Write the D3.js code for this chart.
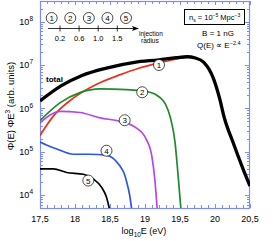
<!DOCTYPE html>
<html><head><meta charset="utf-8">
<script src="https://cdn.jsdelivr.net/npm/d3@7"></script>
<style>body{margin:0;background:#fff}svg{display:block;font-family:"Liberation Sans",Arial,sans-serif}</style>
</head><body><svg id="c" width="274" height="241"></svg>
<script>
// ---- data (log10 E [eV], flux * E^3 arb. units) ----
const totalE = [17.5, 17.8, 18.1, 18.45, 18.85, 19.2, 19.45, 19.6, 19.72, 19.84, 19.98, 20.07, 20.13, 20.26, 20.4, 20.5];
const totalV = [1.48e6, 3.3e6, 5.75e6, 8.5e6, 1.15e7, 1.32e7, 1.48e7, 1.55e7, 1.45e7, 1.15e7, 4.8e6, 1.6e6, 6.3e5, 1.6e5, 4.0e4, 1.6e4];
const r1E = [17.5, 17.69, 17.98, 18.31, 18.65, 18.9, 19.2, 19.4, 19.57];
const r1V = [2.35e5, 6.6e5, 1.74e6, 3.6e6, 6.0e6, 8.3e6, 1.12e7, 1.32e7, 1.51e7];
const r2E = [17.5, 17.79, 18.07, 18.36, 18.74, 19.07, 19.2, 19.29, 19.36, 19.43, 19.47, 19.52];
const r2V = [5.2e5, 1.35e6, 2.3e6, 2.8e6, 2.7e6, 2.35e6, 1.85e6, 1.26e6, 6.3e5, 1.6e5, 3.2e4, 3.5e3];
const r3E = [17.5, 17.65, 17.79, 18.07, 18.36, 18.64, 18.88, 19.02, 19.1, 19.14, 19.18];
const r3V = [4.6e5, 7.1e5, 8.5e5, 8.0e5, 6.0e5, 5.0e5, 3.5e5, 1.9e5, 7.5e4, 2.3e4, 3.5e3];
const r4E = [17.5, 17.6, 17.74, 17.98, 18.21, 18.45, 18.55, 18.64, 18.7, 18.74, 18.78, 18.82];
const r4V = [1.66e5, 1.41e5, 1.15e5, 8.7e4, 8.7e4, 8.3e4, 6.9e4, 4.7e4, 3.2e4, 1.95e4, 1.0e4, 3.5e3];
const r5E = [17.5, 17.69, 17.88, 18.12, 18.26, 18.38, 18.45, 18.51];
const r5V = [4.0e4, 4.0e4, 3.3e4, 3.0e4, 2.35e4, 1.5e4, 8.9e3, 3.5e3];
const seriesNames = ["total", "1", "2", "3", "4", "5"];
const seriesColors = ["#000000", "#e8321e", "#1f8a2e", "#b447e6", "#2a55e6", "#000000"];
const xTicks = [17.5, 18, 18.5, 19, 19.5, 20, 20.5];
const xTickLabels = ["17,5", "18", "18,5", "19", "19,5", "20", "20,5"];
const yTicks = [1e4, 1e5, 1e6, 1e7, 1e8];
const yTickExps = ["4", "5", "6", "7", "8"];
const insetLabels = ["1", "2", "3", "4", "5"];
const insetTicks = ["0.2", "0.6", "1.0", "1.5"];
// label positions (E, value) for the circled numbers
const markE = [19.2, 18.96, 18.71, 18.45, 18.19];
const markV = [1.0e7, 2.35e6, 5.3e5, 1.05e5, 2.15e4];

const svg = d3.select("#c");
const L = 40, R = 250, T = 1, B = 208;
const frame = "#7d8cf0";
const x = d3.scaleLinear().domain([17.5, 20.5]).range([L, R]);
const y = d3.scaleLog().domain([5e3, 3e8]).range([B, T]);

svg.append("defs").append("clipPath").attr("id", "clip")
  .append("rect").attr("x", L).attr("y", T).attr("width", R - L).attr("height", B - T);

// ticks
const g = svg.append("g").attr("stroke", frame).attr("stroke-width", 1);
const xMinor = d3.range(175, 206).map(d => d / 10);
xMinor.forEach(v => {
  const major = xTicks.some(t => Math.abs(t - v) < 1e-6);
  const len = major ? 4 : 3;
  const px = Math.round(x(v)) + 0.5;
  g.append("line").attr("x1", px).attr("x2", px).attr("y1", B).attr("y2", B - len);
  g.append("line").attr("x1", px).attr("x2", px).attr("y1", T).attr("y2", T + len);
});
for (let e = 3; e <= 8; e++) {
  for (let m = 1; m <= 9; m++) {
    const v = m * Math.pow(10, e);
    if (v < 5e3 || v > 3e8) continue;
    const len = m === 1 ? 5 : 3;
    const py = Math.round(y(v)) + 0.5;
    g.append("line").attr("x1", L).attr("x2", L + len).attr("y1", py).attr("y2", py);
    g.append("line").attr("x1", R).attr("x2", R - len).attr("y1", py).attr("y2", py);
  }
}
svg.append("rect").attr("x", L + 0.5).attr("y", T + 0.5).attr("width", R - L - 1).attr("height", B - T)
  .attr("fill", "none").attr("stroke", frame).attr("stroke-width", 1.2);

// tick labels
xTicks.forEach((t, i) => {
  svg.append("text").attr("x", x(t)).attr("y", B + 14).attr("text-anchor", "middle")
    .attr("font-size", 9).text(xTickLabels[i]);
});
yTicks.forEach((t, i) => {
  const tx = svg.append("text").attr("x", 33).attr("y", y(t) + 3.5).attr("text-anchor", "end").attr("font-size", 9);
  tx.append("tspan").text("10");
  tx.append("tspan").attr("dy", -4).attr("font-size", 6.5).text(yTickExps[i]);
});

// axis titles
const xl = svg.append("text").attr("x", 144).attr("y", 234).attr("text-anchor", "middle").attr("font-size", 9);
xl.append("tspan").text("log");
xl.append("tspan").attr("dy", 2.5).attr("font-size", 6.5).text("10");
xl.append("tspan").attr("dy", -2.5).text("E (eV)");
const yl = svg.append("text").attr("transform", "translate(14,106) rotate(-90)").attr("text-anchor", "middle").attr("font-size", 9.5);
yl.append("tspan").text("Φ(E) ΦE");
yl.append("tspan").attr("dy", -4).attr("font-size", 6.5).text("3");
yl.append("tspan").attr("dy", 4).text(" (arb. units)");

// curves
const line = d3.line().x(d => x(d[0])).y(d => y(d[1])).curve(d3.curveMonotoneX);
const allE = [totalE, r1E, r2E, r3E, r4E, r5E];
const allV = [totalV, r1V, r2V, r3V, r4V, r5V];
const cg = svg.append("g").attr("clip-path", "url(#clip)");
// draw order: series then total on top
[1, 2, 3, 4, 5, 0].forEach(i => {
  const pts = allE[i].map((e, j) => [e, allV[i][j]]);
  cg.append("path").attr("d", line(pts)).attr("fill", "none")
    .attr("stroke", seriesColors[i]).attr("stroke-width", i === 0 ? 3.3 : 1.7)
    .attr("stroke-linejoin", "round");
});

// circled markers
markE.forEach((e, i) => {
  const gg = svg.append("g").attr("transform", `translate(${x(e)},${y(markV[i])})`);
  gg.append("circle").attr("r", 5.5).attr("fill", "#fff").attr("stroke", "#000").attr("stroke-width", 0.7);
  gg.append("text").attr("y", 3).attr("text-anchor", "middle").attr("font-size", 8).text(insetLabels[i]);
});
svg.append("text").attr("x", 46).attr("y", 82).attr("font-size", 8).attr("font-weight", "bold").text("total");

// inset
const ix = d3.scalePoint().domain(insetLabels).range([51.7, 126]);
const it = d3.scalePoint().domain(insetTicks).range([60, 117.3]);
insetLabels.forEach(l => {
  const gg = svg.append("g").attr("transform", `translate(${ix(l)},18)`);
  gg.append("circle").attr("r", 5.5).attr("fill", "#fff").attr("stroke", "#000").attr("stroke-width", 0.7);
  gg.append("text").attr("y", 3).attr("text-anchor", "middle").attr("font-size", 8).text(l);
});
svg.append("line").attr("x1", 48).attr("x2", 135).attr("y1", 28.5).attr("y2", 28.5).attr("stroke", "#000").attr("stroke-width", 0.8);
svg.append("path").attr("d", "M139,28.5 L132,26 L133.5,28.5 L132,31 Z").attr("fill", "#000");
insetTicks.forEach(t => {
  svg.append("line").attr("x1", it(t)).attr("x2", it(t)).attr("y1", 25.5).attr("y2", 31.5).attr("stroke", "#000").attr("stroke-width", 0.8);
  svg.append("text").attr("x", it(t)).attr("y", 41).attr("text-anchor", "middle").attr("font-size", 7.5).text(t);
});
svg.append("text").attr("x", 139).attr("y", 36).attr("font-size", 6.5).text("injection");
svg.append("text").attr("x", 141).attr("y", 42.5).attr("font-size", 6.5).text("radius");

// legend text
svg.append("rect").attr("x", 184.5).attr("y", 9.5).attr("width", 60).attr("height", 15).attr("fill", "#fff").attr("stroke", "#000").attr("stroke-width", 1);
const nt = svg.append("text").attr("x", 189).attr("y", 19.5).attr("font-size", 7.5);
nt.append("tspan").text("n");
nt.append("tspan").attr("dy", 2.5).attr("font-size", 5).text("s");
nt.append("tspan").attr("dy", -2.5).text(" = 10");
nt.append("tspan").attr("dy", -3).attr("font-size", 5).text("−5");
nt.append("tspan").attr("dy", 3).text(" Mpc");
nt.append("tspan").attr("dy", -3).attr("font-size", 5).text("−3");
svg.append("text").attr("x", 218).attr("y", 36).attr("text-anchor", "middle").attr("font-size", 8).text("B = 1 nG");
const qt = svg.append("text").attr("x", 197).attr("y", 48).attr("font-size", 8);
qt.append("tspan").text("Q(E) ∝ E");
qt.append("tspan").attr("dy", -3.5).attr("font-size", 5.5).text("−2.4");
</script></body></html>
